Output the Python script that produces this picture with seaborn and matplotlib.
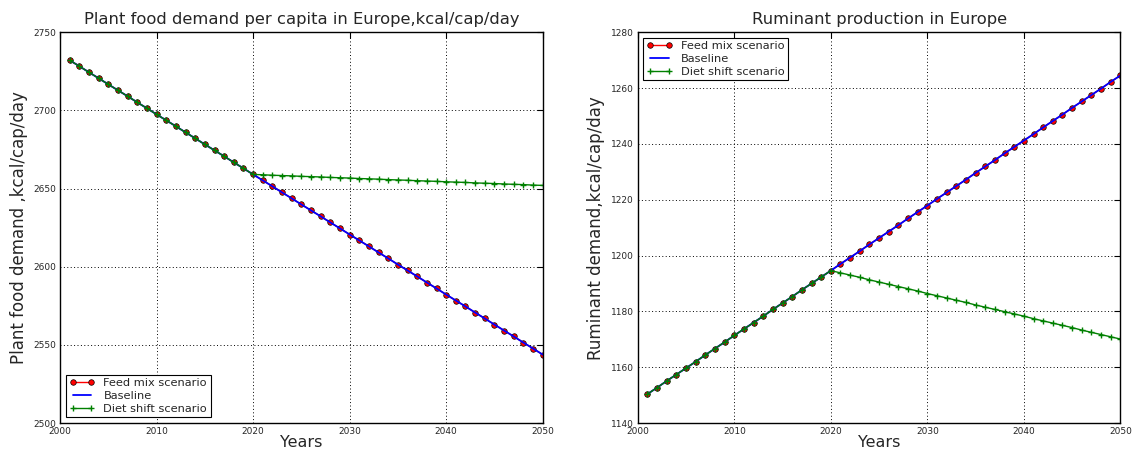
import matplotlib
matplotlib.use("Agg")
import matplotlib.pyplot as plt
import seaborn as sns

years = list(range(2001, 2051))

plant_baseline = [2732.0, 2728.2, 2724.3, 2720.5, 2716.6, 2712.8, 2709.0, 2705.1, 2701.3, 2697.4,
                  2693.6, 2689.8, 2685.9, 2682.1, 2678.2, 2674.4, 2670.6, 2666.7, 2662.9, 2659.0,
                  2655.2, 2651.4, 2647.5, 2643.7, 2639.8, 2636.0, 2632.2, 2628.3, 2624.5, 2620.6,
                  2616.8, 2613.0, 2609.1, 2605.3, 2601.4, 2597.6, 2593.8, 2589.9, 2586.1, 2582.2,
                  2578.4, 2574.6, 2570.7, 2566.9, 2563.0, 2559.2, 2555.4, 2551.5, 2547.7, 2543.8]
plant_feedmix = list(plant_baseline)
plant_diet = [2732.0, 2728.2, 2724.3, 2720.5, 2716.6, 2712.8, 2709.0, 2705.1, 2701.3, 2697.4,
              2693.6, 2689.8, 2685.9, 2682.1, 2678.2, 2674.4, 2670.6, 2666.7, 2662.9, 2659.0,
              2658.8, 2658.5, 2658.3, 2658.1, 2657.8, 2657.6, 2657.4, 2657.1, 2656.9, 2656.7,
              2656.4, 2656.2, 2656.0, 2655.7, 2655.5, 2655.3, 2655.0, 2654.8, 2654.6, 2654.3,
              2654.1, 2653.9, 2653.6, 2653.4, 2653.2, 2652.9, 2652.7, 2652.5, 2652.2, 2652.0]

rum_baseline = [1150.4, 1152.7, 1155.1, 1157.4, 1159.7, 1162.0, 1164.4, 1166.7, 1169.0, 1171.4,
                1173.7, 1176.0, 1178.3, 1180.7, 1183.0, 1185.3, 1187.7, 1190.0, 1192.3, 1194.6,
                1197.0, 1199.3, 1201.6, 1204.0, 1206.3, 1208.6, 1210.9, 1213.3, 1215.6, 1217.9,
                1220.3, 1222.6, 1224.9, 1227.2, 1229.6, 1231.9, 1234.2, 1236.6, 1238.9, 1241.2,
                1243.5, 1245.9, 1248.2, 1250.5, 1252.9, 1255.2, 1257.5, 1259.8, 1262.2, 1264.5]
rum_feedmix = list(rum_baseline)
rum_diet = [1150.4, 1152.7, 1155.1, 1157.4, 1159.7, 1162.0, 1164.4, 1166.7, 1169.0, 1171.4,
            1173.7, 1176.0, 1178.3, 1180.7, 1183.0, 1185.3, 1187.7, 1190.0, 1192.3, 1194.6,
            1193.8, 1193.0, 1192.2, 1191.3, 1190.5, 1189.7, 1188.9, 1188.1, 1187.3, 1186.4,
            1185.6, 1184.8, 1184.0, 1183.2, 1182.3, 1181.5, 1180.7, 1179.9, 1179.1, 1178.3,
            1177.4, 1176.6, 1175.8, 1175.0, 1174.2, 1173.3, 1172.5, 1171.7, 1170.9, 1170.1]

sns.set_style("white")
plt.rcParams['font.family'] = ['DejaVu Sans']

fig, axes = plt.subplots(1, 2, figsize=(11.34, 4.53), dpi=100)
plt.subplots_adjust(left=0.053, right=0.988, top=0.929, bottom=0.066, wspace=0.197)


def draw(ax, feed, base, diet, title, ylabel, ylim, yticks, legloc):
    sns.lineplot(x=years, y=feed, ax=ax, color='red', marker='o', markersize=4,
                 markeredgecolor='black', markeredgewidth=0.5, linewidth=1.0,
                 label='Feed mix scenario')
    sns.lineplot(x=years, y=base, ax=ax, color='blue', linewidth=1.3, label='Baseline')
    sns.lineplot(x=years, y=diet, ax=ax, color='green', marker='+', markersize=5,
                 markeredgecolor='green', markeredgewidth=1.0, linewidth=1.0,
                 label='Diet shift scenario')
    ax.set_xlim(2000, 2050)
    ax.set_ylim(*ylim)
    ax.set_xticks(range(2000, 2051, 10))
    ax.set_yticks(yticks)
    ax.set_title(title, fontsize=11.8)
    ax.set_xlabel('Years', fontsize=11.5, labelpad=-1)
    ax.set_ylabel(ylabel, fontsize=12)
    ax.grid(True, color='black', linestyle=(0, (1, 2.5)), linewidth=0.7)
    ax.tick_params(direction='in', top=True, right=True, labelsize=6.5, length=4,
                   color='black', pad=3)
    for s in ax.spines.values():
        s.set_color('black')
        s.set_linewidth(1.0)
    leg = ax.legend(loc=legloc, fontsize=8.2, fancybox=False, framealpha=1,
                    edgecolor='black', numpoints=2, borderaxespad=0.5,
                    handlelength=2.2, labelspacing=0.25, borderpad=0.3)
    leg.get_frame().set_linewidth(0.8)


draw(axes[0], plant_feedmix, plant_baseline, plant_diet,
     'Plant food demand per capita in Europe,kcal/cap/day',
     'Plant food demand ,kcal/cap/day', (2500, 2750), range(2500, 2751, 50), 'lower left')
draw(axes[1], rum_feedmix, rum_baseline, rum_diet,
     'Ruminant production in Europe',
     'Ruminant demand,kcal/cap/day', (1140, 1280), range(1140, 1281, 20), 'upper left')

fig.savefig('out.png', dpi=100, facecolor='white')
